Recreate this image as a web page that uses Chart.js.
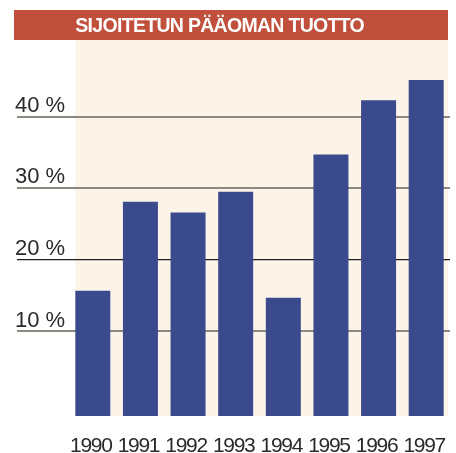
<!DOCTYPE html>
<html>
<head>
<meta charset="utf-8">
<script src="https://cdn.jsdelivr.net/npm/chart.js@4/dist/chart.umd.min.js"></script>
<style>
  html, body { margin: 0; padding: 0; background: #ffffff; }
  #wrap { width: 456px; height: 453px; position: relative; }
</style>
</head>
<body>
<div id="wrap"><canvas id="c" width="456" height="453"></canvas></div>
<script>
// ---- data ----
const titleText = 'SIJOITETUN PÄÄOMAN TUOTTO';
const years = ['1990', '1991', '1992', '1993', '1994', '1995', '1996', '1997'];
const returns = [15.7, 28.1, 26.6, 29.5, 14.7, 34.7, 42.3, 45.1];
const yTicks = [10, 20, 30, 40];
const yMin = -1.8;
const yMax = 50.7;

// ---- styles ----
const barColor = '#3b4a8c';
const panelColor = '#fcf4e9';
const titleBg = '#c0503b';
const gridGray = '#8c8882';
const gridDark = '#1e1e1e';
const textColor = '#2a2a2a';

const decorPlugin = {
  id: 'decor',
  beforeDraw(chart) {
    const ctx = chart.ctx;
    const area = chart.chartArea;
    const meta = chart.getDatasetMeta(0);
    const first = meta.data[0];
    const panelLeft = first.x - first.width / 2;
    const panelRight = area.right - 2;
    ctx.save();
    // title bar
    ctx.fillStyle = titleBg;
    ctx.fillRect(14, 10, panelRight - 14, area.top - 10);
    ctx.fillStyle = '#ffffff';
    ctx.font = 'bold 19.5px "Liberation Sans", Arial, sans-serif';
    try { ctx.letterSpacing = '-0.7px'; } catch (e) {}
    ctx.textAlign = 'left';
    ctx.textBaseline = 'alphabetic';
    ctx.fillText(titleText, panelLeft, 31.5);
    try { ctx.letterSpacing = '0px'; } catch (e) {}
    // cream panel
    ctx.fillStyle = panelColor;
    ctx.fillRect(panelLeft, area.top, panelRight - panelLeft, area.bottom - area.top);
    ctx.restore();
  }
};

const gridColor = (c) => (c.tick && c.tick.value === 20 ? gridDark : gridGray);
const gridWidth = (c) => (c.tick && c.tick.value === 20 ? 1.2 : 2);

// condensed tick labels for the year axis (tight tracking as in the print original)
function condenseLabels(scale) {
  if (scale._condensed) return;
  const orig = scale.drawLabels.bind(scale);
  scale.drawLabels = function (area) {
    const ctx = this.ctx;
    ctx.save();
    try { ctx.letterSpacing = '-1.3px'; } catch (e) {}
    orig(area);
    ctx.restore();
  };
  scale._condensed = true;
}

new Chart(document.getElementById('c'), {
  type: 'bar',
  data: {
    labels: years,
    datasets: [{
      data: returns,
      base: yMin,
      backgroundColor: barColor,
      borderWidth: 0,
      categoryPercentage: 1.0,
      barPercentage: 0.735
    }]
  },
  options: {
    responsive: false,
    animation: false,
    devicePixelRatio: 1,
    layout: { padding: { left: 15, right: 6, top: 40, bottom: 0 } },
    plugins: {
      legend: { display: false },
      title: { display: false },
      tooltip: { enabled: false }
    },
    scales: {
      x: {
        grid: { display: false },
        border: { display: false },
        ticks: {
          color: textColor,
          font: { family: '"Liberation Sans", Arial, sans-serif', size: 21 },
          padding: 10,
          labelOffset: -2,
          maxRotation: 0,
          autoSkip: false
        },
        afterFit(scale) {
          scale.height = 37; scale.paddingLeft = 0; scale.paddingRight = 0;
          condenseLabels(scale);
        }
      },
      y: {
        min: yMin,
        max: yMax,
        afterBuildTicks(scale) { scale.ticks = yTicks.map(v => ({ value: v })); },
        afterFit(scale) { scale.width = 54; scale.paddingTop = 0; scale.paddingBottom = 0; },
        border: { display: false },
        grid: {
          color: gridColor,
          tickColor: gridColor,
          lineWidth: gridWidth,
          drawTicks: true,
          tickLength: 52
        },
        ticks: {
          color: textColor,
          font: { family: '"Liberation Sans", Arial, sans-serif', size: 22 },
          crossAlign: 'far',
          labelOffset: -11,
          padding: 0,
          callback: (v) => v + ' %'
        }
      }
    }
  },
  plugins: [decorPlugin]
});
</script>
</body>
</html>
